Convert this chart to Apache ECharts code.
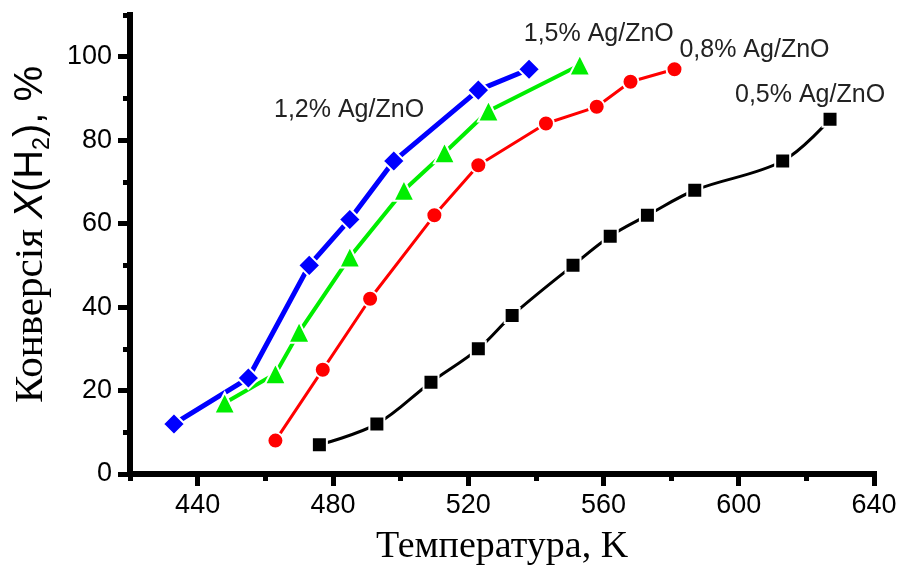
<!DOCTYPE html>
<html>
<head>
<meta charset="utf-8">
<script src="https://cdn.jsdelivr.net/npm/echarts@6/dist/echarts.min.js"></script>
<style>
html, body { margin: 0; padding: 0; background: #fff; }
#chart { width: 903px; height: 571px; }
</style>
</head>
<body>
<div id="chart"></div>
<script>
// data
var temp05 = [476, 493, 509, 523, 533, 551, 562, 573, 587, 613, 627];
var conv05 = [7, 12, 22, 30, 38, 50, 57, 62, 68, 75, 85];
var temp08 = [463, 477, 491, 510, 523, 543, 558, 568, 581];
var conv08 = [8, 25, 42, 62, 74, 84, 88, 94, 97];
var temp12 = [433, 455, 473, 485, 498, 523, 538];
var conv12 = [12, 23, 50, 61, 75, 92, 97];
var temp15 = [448, 463, 470, 485, 501, 513, 526, 553];
var conv15 = [17, 24, 34, 52, 68, 77, 87, 98];

var xTicks = [440, 480, 520, 560, 600, 640];
var xMinor = [420, 460, 500, 540, 580, 620];
var yTicks = [0, 20, 40, 60, 80, 100];
var yMinor = [10, 30, 50, 70, 90, 110];

function pairs(xs, ys) {
    return xs.map(function (x, i) { return [x, ys[i]]; });
}

var myChart = echarts.init(document.getElementById('chart'));
var sans = '"Liberation Sans", Arial, sans-serif';
var serif = '"Liberation Serif", "Times New Roman", serif';

var labelStyle = {
    show: true,
    fontFamily: sans,
    fontSize: 25,
    color: '#222',
    align: 'center',
    verticalAlign: 'middle'
};

function lineSeries(name, data, color, width, symbol, size, smooth, offset) {
    return {
        type: 'line',
        name: name,
        data: data,
        smooth: smooth,
        symbol: symbol,
        symbolSize: size,
        lineStyle: { color: color, width: width },
        itemStyle: { color: color, borderColor: '#fff', borderWidth: 2 },
        endLabel: Object.assign({ formatter: name, offset: offset }, labelStyle),
        z: 3
    };
}

var axisLineStyle = { color: '#000', width: 6, cap: 'square' };
var majorTick = { color: '#000', width: 5 };

var option = {
    animation: false,
    backgroundColor: '#fff',
    grid: { left: 130, right: 29, top: 15, bottom: 94 },
    xAxis: [
        {
            type: 'value',
            min: 420,
            max: 640,
            interval: 20,
            position: 'bottom',
            name: 'Температура, K',
            nameLocation: 'middle',
            nameGap: 54,
            nameTextStyle: { fontFamily: serif, fontSize: 38, color: '#000' },
            axisLine: { show: true, onZero: false, lineStyle: axisLineStyle },
            axisTick: { show: true, customValues: xTicks, length: 12, lineStyle: majorTick },
            axisLabel: { customValues: xTicks, margin: 18, fontFamily: sans, fontSize: 27, color: '#000' },
            splitLine: { show: false }
        },
        {
            type: 'value',
            min: 420,
            max: 640,
            interval: 20,
            position: 'bottom',
            axisLine: { show: false },
            axisTick: { show: true, customValues: xMinor, length: 7, lineStyle: majorTick },
            axisLabel: { show: false },
            splitLine: { show: false }
        }
    ],
    yAxis: [
        {
            type: 'value',
            min: 0,
            max: 110,
            interval: 10,
            position: 'left',
            name: '{a|Конверсія }{x|X}{b|(H}{s|2}{b|), %}',
            nameLocation: 'middle',
            nameGap: 76,
            nameTextStyle: {
                padding: [0, 0, 0, 20],
                rich: {
                    a: { fontFamily: serif, fontSize: 41, color: '#000', lineHeight: 46 },
                    x: { fontFamily: sans, fontStyle: 'italic', fontSize: 40, color: '#000', lineHeight: 46 },
                    b: { fontFamily: sans, fontSize: 40, color: '#000', lineHeight: 46 },
                    s: { fontFamily: sans, fontSize: 23, color: '#000', lineHeight: 18, verticalAlign: 'bottom' }
                }
            },
            axisLine: { show: true, onZero: false, lineStyle: axisLineStyle },
            axisTick: { show: true, customValues: yTicks, length: 12, lineStyle: majorTick },
            axisLabel: { customValues: yTicks, margin: 18, fontFamily: sans, fontSize: 27, color: '#000' },
            splitLine: { show: false }
        },
        {
            type: 'value',
            min: 0,
            max: 110,
            interval: 10,
            position: 'left',
            axisLine: { show: false },
            axisTick: { show: true, customValues: yMinor, length: 7, lineStyle: majorTick },
            axisLabel: { show: false },
            splitLine: { show: false }
        }
    ],
    series: [
        lineSeries('0,5% Ag/ZnO', pairs(temp05, conv05), '#000000', 3, 'rect', 15, 0.35, [-28, -24]),
        lineSeries('0,8% Ag/ZnO', pairs(temp08, conv08), '#ff0000', 3, 'circle', 16, false, [72, -19]),
        lineSeries('1,5% Ag/ZnO', pairs(temp15, conv15), '#00ee00', 4, 'triangle', 21, false, [11, -31]),
        lineSeries('1,2% Ag/ZnO', pairs(temp12, conv12), '#0000ff', 5, 'diamond', 22, false, [-188, 41])
    ]
};

myChart.setOption(option);
window.addEventListener('resize', function () {
    myChart.resize();
});
</script>
</body>
</html>
